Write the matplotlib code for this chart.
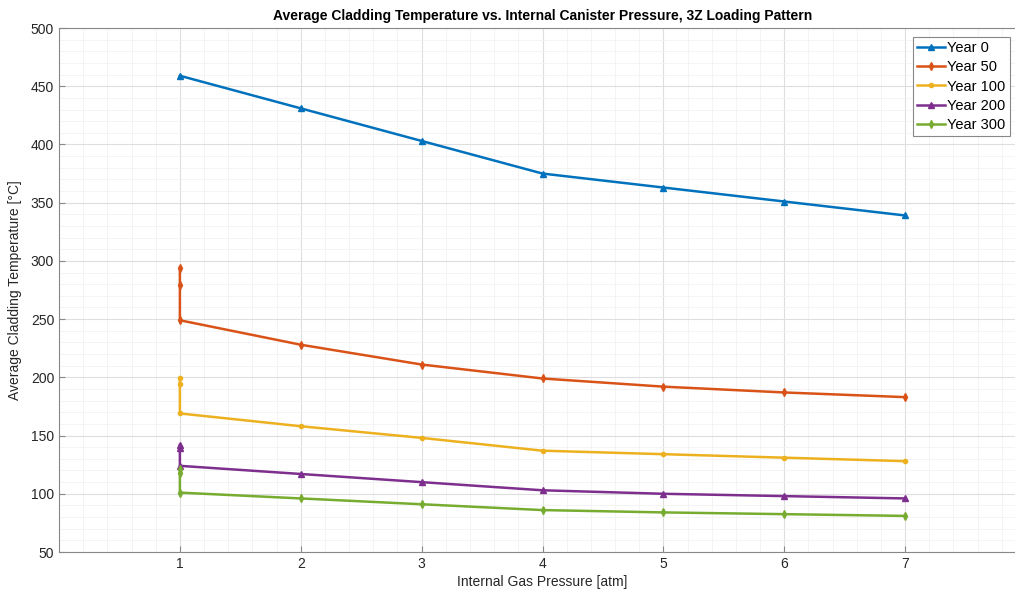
import matplotlib.pyplot as plt
from matplotlib.ticker import MultipleLocator

plt.rcParams['font.family'] = ['Liberation Sans', 'DejaVu Sans']

# pressure points; the first three entries of each series sit at 1 atm
pressure = [1, 1, 1, 2, 3, 4, 5, 6, 7]
year0 = [459, 431, 403, 375, 363, 351, 339]
year50 = [294, 279, 249, 228, 211, 199, 192, 187, 183]
year100 = [199, 194, 169, 158, 148, 137, 134, 131, 128]
year200 = [142, 139, 124, 117, 110, 103, 100, 98, 96]
year300 = [121, 118, 101, 96, 91, 86, 84, 82.5, 81]
labels = ['Year 0', 'Year 50', 'Year 100', 'Year 200', 'Year 300']

W, H = 1015, 598
fig = plt.figure(figsize=(W / 100, H / 100), dpi=100)
ax = fig.add_axes([59 / W, 46 / H, (1026 - 59) / W, (552 - 28) / H])

ax.plot(pressure[2:], year0, marker='^', color='#0072BD', lw=1.8, ms=5, label=labels[0])
ax.plot(pressure, year50, marker='d', color='#D95319', lw=1.8, ms=4, label=labels[1])
ax.plot(pressure, year100, marker='.', color='#EDB120', lw=1.8, ms=6, label=labels[2])
ax.plot(pressure, year200, marker='^', color='#7E2F8E', lw=1.8, ms=5, label=labels[3])
ax.plot(pressure, year300, marker='d', color='#77AC30', lw=1.8, ms=4, label=labels[4])

ax.set_xlim(0, 8)
ax.set_ylim(50, 500)
ax.set_xticks(range(1, 8))
ax.set_yticks(range(50, 501, 50))
ax.xaxis.set_minor_locator(MultipleLocator(0.2))
ax.yaxis.set_minor_locator(MultipleLocator(10))
ax.grid(True, which='major', color='#dedede', lw=0.8)
ax.grid(True, which='minor', color='#f2f2f2', lw=0.6)
ax.set_axisbelow(True)
ax.tick_params(which='both', direction='in', labelsize=10, colors='#262626')
ax.tick_params(which='minor', length=0)
ax.tick_params(which='major', length=4, color='#888888')
for s in ax.spines.values():
    s.set_color('#888888')

ax.set_xlabel('Internal Gas Pressure [atm]', fontsize=10, color='#262626', labelpad=3)
ax.set_ylabel('Average Cladding Temperature [°C]', fontsize=10, color='#262626', labelpad=6)
ax.set_title('Average Cladding Temperature vs. Internal Canister Pressure, 3Z Loading Pattern',
             fontsize=10, fontweight='bold', pad=6)

leg = ax.legend(loc='upper left', bbox_to_anchor=(913 / W, 1 - 37 / H),
                bbox_transform=fig.transFigure, fontsize=10.5, frameon=True,
                fancybox=False, handlelength=1.9, handletextpad=0.15,
                borderpad=0.3, labelspacing=0.35, borderaxespad=0,
                framealpha=1)
leg.get_frame().set_edgecolor('#888888')
leg.get_frame().set_linewidth(0.8)

fig.savefig('out.png', dpi=100)
